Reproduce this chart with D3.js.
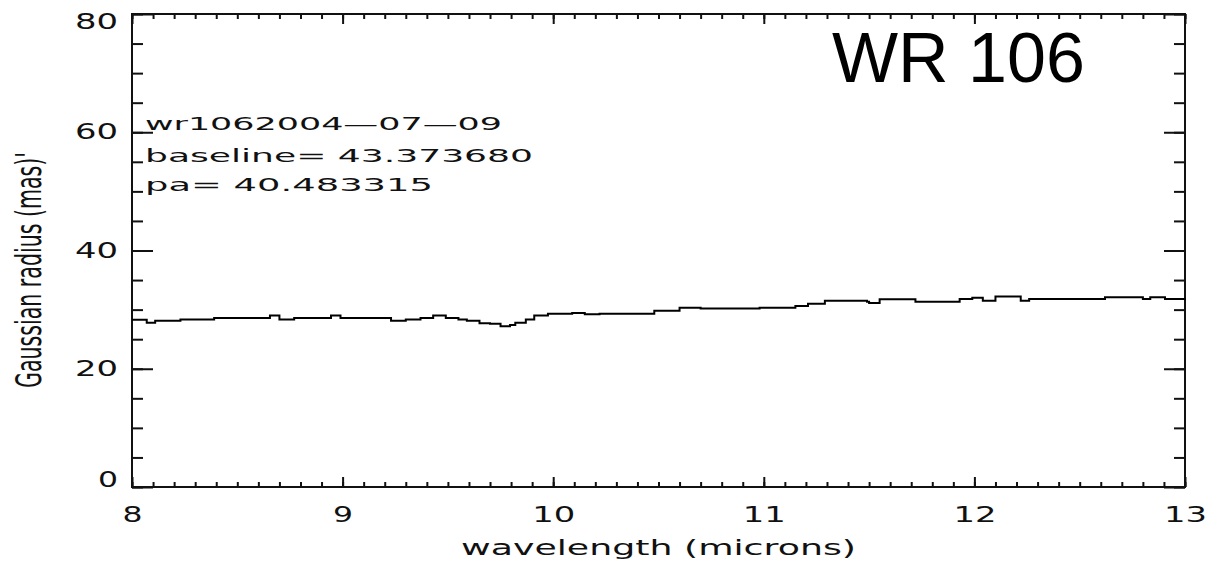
<!DOCTYPE html>
<html>
<head>
<meta charset="utf-8">
<script src="https://cdn.jsdelivr.net/npm/d3@7"></script>
<style>
  body { margin: 0; background: #fff; }
  svg { display: block; }
  .lbl { font-family: "DejaVu Sans", sans-serif; fill: #111; }
</style>
</head>
<body>
<svg id="chart" width="1215" height="565"></svg>
<script>
// wavelength (microns) and Gaussian radius (mas)
var wavelength = [8.00, 8.07, 8.11, 8.23, 8.39, 8.62, 8.655, 8.70, 8.77, 8.92, 8.945, 8.99,
    9.16, 9.23, 9.30, 9.37, 9.43, 9.49, 9.55, 9.59, 9.65, 9.70, 9.75, 9.795, 9.82, 9.87,
    9.91, 9.975, 10.09, 10.15, 10.22, 10.44, 10.48, 10.60, 10.70, 10.86, 10.98, 11.11,
    11.15, 11.21, 11.29, 11.36, 11.49, 11.50, 11.55, 11.68, 11.72, 11.88, 11.93, 11.99,
    12.04, 12.10, 12.18, 12.22, 12.26, 12.60, 12.62, 12.78, 12.80, 12.835, 12.88, 12.905, 13.00];
var radius = [28.3, 27.8, 28.1, 28.35, 28.6, 28.6, 29.0, 28.35, 28.6, 28.6, 29.0, 28.6,
    28.6, 28.1, 28.35, 28.6, 29.0, 28.6, 28.35, 28.1, 27.7, 27.6, 27.2, 27.4, 27.8, 28.35,
    29.0, 29.3, 29.45, 29.2, 29.3, 29.3, 29.8, 30.3, 30.2, 30.2, 30.3, 30.3,
    30.6, 31.0, 31.5, 31.5, 31.35, 31.1, 31.75, 31.75, 31.35, 31.35, 31.8, 32.0,
    31.5, 32.2, 32.2, 31.5, 31.8, 31.8, 32.1, 32.1, 31.8, 32.1, 32.1, 31.8, 31.6];

var xTicks = [8, 9, 10, 11, 12, 13];
var yTicks = [0, 20, 40, 60, 80];
var notes = ["wr1062004\u201407\u201409", "baseline= 43.373680", "pa= 40.483315"];
var title = "WR 106";
var xTitle = "wavelength (microns)";
var yTitle = "Gaussian radius (mas)'";

(function () {
    var svg = d3.select("#chart");
    var pl = 132, pr = 1185, pt = 14, pb = 487;

    var x = d3.scaleLinear().domain([8, 13]).range([pl, pr]);
    var y = d3.scaleLinear().domain([0, 80]).range([pb, pt]);

    var xMinor = d3.range(80, 131).map(function (d) { return d / 10; });
    var yMinor = d3.range(0, 81, 5);

    function styleAxis(g) {
        g.select(".domain").remove();
        g.selectAll("line").attr("stroke", "#111").attr("stroke-width", 2);
        g.attr("font-family", null).attr("font-size", null);
    }

    function tickWidth(s) { return s.length == 1 ? 20 : 43; }

    // minor ticks
    svg.append("g").attr("transform", "translate(0," + pb + ")")
        .call(d3.axisBottom(x).tickValues(xMinor).tickSize(-5).tickFormat(""))
        .call(styleAxis);
    svg.append("g").attr("transform", "translate(0," + pt + ")")
        .call(d3.axisTop(x).tickValues(xMinor).tickSize(-5).tickFormat(""))
        .call(styleAxis);
    svg.append("g").attr("transform", "translate(" + pl + ",0)")
        .call(d3.axisLeft(y).tickValues(yMinor).tickSize(-11).tickFormat(""))
        .call(styleAxis);
    svg.append("g").attr("transform", "translate(" + pr + ",0)")
        .call(d3.axisRight(y).tickValues(yMinor).tickSize(-11).tickFormat(""))
        .call(styleAxis);

    // major ticks with labels
    var xAxis = svg.append("g").attr("transform", "translate(0," + pb + ")")
        .call(d3.axisBottom(x).tickValues(xTicks).tickSize(-10).tickPadding(20).tickFormat(d3.format("d")))
        .call(styleAxis);
    xAxis.selectAll("text").attr("class", "lbl").attr("font-size", 21)
        .attr("textLength", function (d) { return tickWidth(String(d)); })
        .attr("lengthAdjust", "spacingAndGlyphs");

    svg.append("g").attr("transform", "translate(0," + pt + ")")
        .call(d3.axisTop(x).tickValues(xTicks).tickSize(-10).tickFormat(""))
        .call(styleAxis);

    var yAxis = svg.append("g").attr("transform", "translate(" + pl + ",0)")
        .call(d3.axisLeft(y).tickValues(yTicks).tickSize(-21).tickPadding(14).tickFormat(d3.format("d")))
        .call(styleAxis);
    yAxis.selectAll("text").attr("class", "lbl").attr("font-size", 20.5)
        .attr("textLength", function (d) { return tickWidth(String(d)); })
        .attr("lengthAdjust", "spacingAndGlyphs")
        .attr("y", function (d) { return d == 80 ? 8 : (d == 0 ? -7 : 0); });

    svg.append("g").attr("transform", "translate(" + pr + ",0)")
        .call(d3.axisRight(y).tickValues(yTicks).tickSize(-21).tickFormat(""))
        .call(styleAxis);

    // frame
    svg.append("rect")
        .attr("x", pl).attr("y", pt)
        .attr("width", pr - pl).attr("height", pb - pt)
        .attr("fill", "none").attr("stroke", "#111").attr("stroke-width", 2);

    // curve (stepped, like the binned spectrum)
    var pts = wavelength.map(function (w, i) { return [w, radius[i]]; });
    var line = d3.line()
        .curve(d3.curveStepAfter)
        .x(function (d) { return x(d[0]); })
        .y(function (d) { return y(d[1]); });
    svg.append("path").datum(pts)
        .attr("d", line)
        .attr("fill", "none").attr("stroke", "#000").attr("stroke-width", 2);

    // notes in upper left
    var noteLen = [357, 388, 288];
    var noteBase = [130, 162, 191];
    svg.selectAll(".note").data(notes).enter().append("text")
        .attr("class", "lbl note")
        .attr("x", pl + 13)
        .attr("y", function (d, i) { return noteBase[i]; })
        .attr("font-size", 18)
        .attr("textLength", function (d, i) { return noteLen[i]; })
        .attr("lengthAdjust", "spacingAndGlyphs")
        .text(function (d) { return d; });

    // big title
    svg.append("text")
        .attr("x", 832).attr("y", 82)
        .attr("font-family", "'Liberation Sans', Arial, sans-serif")
        .attr("font-size", 70)
        .attr("fill", "#000")
        .text(title);

    // axis titles
    svg.append("text")
        .attr("class", "lbl")
        .attr("x", (pl + pr) / 2).attr("y", 555)
        .attr("text-anchor", "middle")
        .attr("font-size", 21)
        .attr("textLength", 395)
        .attr("lengthAdjust", "spacingAndGlyphs")
        .text(xTitle);

    svg.append("g")
        .attr("transform", "translate(41,388) scale(1.8,1) rotate(-90)")
        .append("text")
        .attr("class", "lbl")
        .attr("x", 0).attr("y", 0)
        .attr("font-size", 20)
        .attr("textLength", 236)
        .attr("lengthAdjust", "spacingAndGlyphs")
        .text(yTitle);
})();
</script>
</body>
</html>
